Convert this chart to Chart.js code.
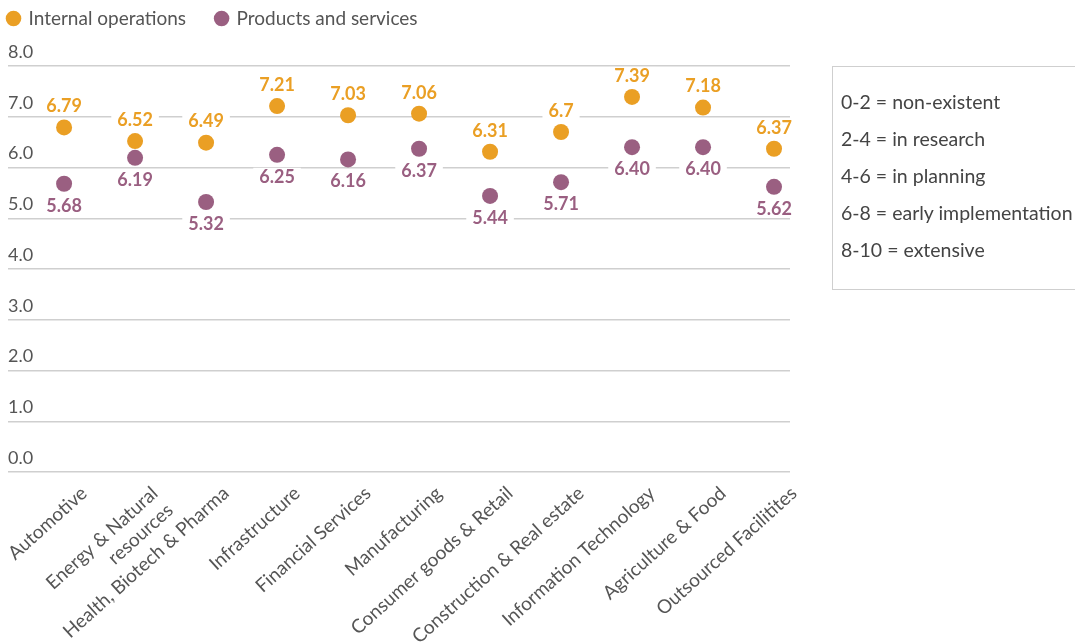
<!DOCTYPE html>
<html>
<head>
<meta charset="utf-8">
<script src="https://cdn.jsdelivr.net/npm/chart.js@4"></script>
<style>
  html, body { margin: 0; padding: 0; background: #fff; overflow: hidden; }
  #wrap { position: relative; width: 1075px; height: 644px; }
  #scale-box {
    position: absolute; left: 832px; top: 66px; width: 260px; height: 224px;
    border: 1.5px solid #cfcfcf; box-sizing: border-box;
    font-family: Lato, sans-serif; font-size: 19.5px; color: #444;
    padding: 16px 0 0 8px; line-height: 37px;
  }
</style>
</head>
<body>
<div id="wrap">
  <canvas id="chart" width="1075" height="644"></canvas>
  <div id="scale-box">
    <div>0-2 = non-existent</div>
    <div>2-4 = in research</div>
    <div>4-6 = in planning</div>
    <div>6-8 = early implementation</div>
    <div>8-10 = extensive</div>
  </div>
</div>
<script>
// chart values
const categories = [
  'Automotive',
  ['Energy & Natural', 'resources'],
  'Health, Biotech & Pharma',
  'Infrastructure',
  'Financial Services',
  'Manufacturing',
  'Consumer goods & Retail',
  'Construction & Real estate',
  'Information Technology',
  'Agriculture & Food',
  'Outsourced Facilitites'
];
const internalOps = [6.79, 6.52, 6.49, 7.21, 7.03, 7.06, 6.31, 6.7, 7.39, 7.18, 6.37];
const productsServices = [5.68, 6.19, 5.32, 6.25, 6.16, 6.37, 5.44, 5.71, 6.40, 6.40, 5.62];
const yTicks = [0, 1, 2, 3, 4, 5, 6, 7, 8];

const ORANGE = '#EA9F24';
const PURPLE = '#9A5F81';
const FONT = 'Lato, sans-serif';
const LEGEND_PAD = 30;

function toPoints(values) {
  return values.map((v, i) => ({ x: i, y: v }));
}

// taller legend box so the plot starts lower; pull the items up and left
const legendTweak = {
  id: 'legendTweak',
  afterInit(chart) {
    const legend = chart.legend;
    if (!legend) return;
    const fit = legend.fit;
    legend.fit = function() {
      fit.call(this);
      this.height = 66;
    };
  },
  beforeDraw(chart) {
    if (!chart.legend) return;
    chart.legend.left = 8 - LEGEND_PAD;
    chart.legend.top = 9 - LEGEND_PAD;
  }
};

// draws value labels with a white box behind them (hides the gridline)
const valueLabels = {
  id: 'valueLabels',
  afterDatasetsDraw(chart) {
    const ctx = chart.ctx;
    ctx.save();
    ctx.font = 'bold 18px ' + FONT;
    ctx.textAlign = 'center';
    ctx.textBaseline = 'middle';
    chart.data.datasets.forEach((ds, di) => {
      const meta = chart.getDatasetMeta(di);
      meta.data.forEach((pt, i) => {
        const v = ds.data[i].y;
        const text = di === 0 ? String(v) : v.toFixed(2);
        const y = di === 0 ? pt.y - 21 : pt.y + 22;
        const w = ctx.measureText(text).width;
        ctx.fillStyle = '#fff';
        ctx.fillRect(pt.x - w / 2 - 6, y - 9, w + 12, 18);
        ctx.fillStyle = ds.borderColor;
        ctx.fillText(text, pt.x, y);
      });
    });
    ctx.restore();
  }
};

new Chart(document.getElementById('chart'), {
  type: 'scatter',
  data: {
    datasets: [
      {
        label: 'Internal operations',
        data: toPoints(internalOps),
        backgroundColor: ORANGE,
        borderColor: ORANGE,
        pointRadius: 8,
        pointHoverRadius: 8,
        borderWidth: 0
      },
      {
        label: 'Products and services',
        data: toPoints(productsServices),
        backgroundColor: PURPLE,
        borderColor: PURPLE,
        pointRadius: 8,
        pointHoverRadius: 8,
        borderWidth: 0
      }
    ]
  },
  options: {
    responsive: false,
    animation: false,
    layout: { padding: { left: 0, right: 285, top: 0, bottom: 0 } },
    plugins: {
      legend: {
        position: 'top',
        align: 'start',
        labels: {
          usePointStyle: true,
          pointStyle: 'circle',
          boxWidth: 11,
          boxHeight: 11,
          padding: LEGEND_PAD,
          color: '#555',
          font: { family: FONT, size: 19 }
        }
      },
      tooltip: { enabled: false }
    },
    scales: {
      x: {
        type: 'linear',
        min: -0.79,
        max: 10.225,
        grid: { display: false },
        border: { display: false },
        afterBuildTicks(scale) {
          scale.ticks = categories.map((c, i) => ({ value: i }));
        },
        afterFit(scale) {
          scale.height = 172;
          scale.paddingLeft = 0;
          scale.paddingRight = 0;
        },
        ticks: {
          autoSkip: false,
          minRotation: 42,
          maxRotation: 42,
          labelOffset: 20,
          padding: 2,
          color: '#555',
          font: { family: FONT, size: 19 },
          callback: (v) => categories[v]
        }
      },
      y: {
        min: 0,
        max: 8,
        afterBuildTicks(scale) {
          scale.ticks = yTicks.map(v => ({ value: v }));
        },
        afterFit(scale) { scale.width = 7; },
        grid: { color: '#cfcfcf', lineWidth: 1.5, drawTicks: false },
        border: { display: false },
        ticks: {
          mirror: true,
          padding: 0,
          labelOffset: -14,
          color: '#555',
          font: { family: FONT, size: 18 },
          callback: (v) => v.toFixed(1)
        }
      }
    }
  },
  plugins: [legendTweak, valueLabels]
});
</script>
</body>
</html>
